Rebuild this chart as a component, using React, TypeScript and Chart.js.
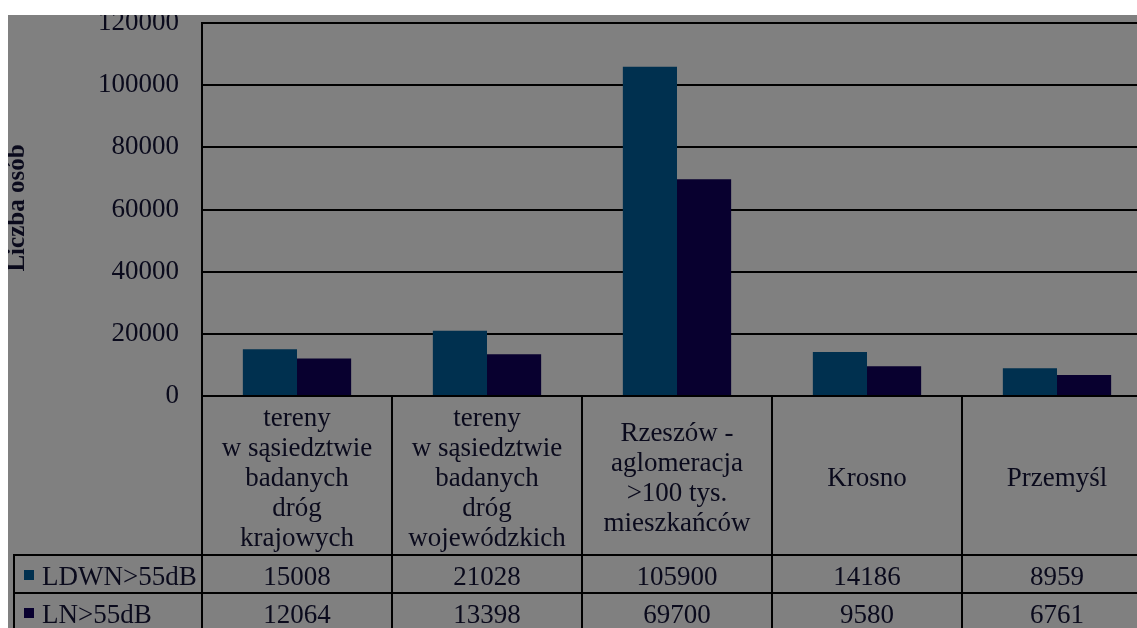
import React, { useEffect, useRef } from "react";
import { Chart, registerables } from "chart.js";

Chart.register(...registerables);

const categories: string[][] = [
  ["tereny", "w sąsiedztwie", "badanych", "dróg", "krajowych"],
  ["tereny", "w sąsiedztwie", "badanych", "dróg", "wojewódzkich"],
  ["Rzeszów -", "aglomeracja", ">100 tys.", "mieszkańców"],
  ["Krosno"],
  ["Przemyśl"],
];
const seriesNames = ["LDWN>55dB", "LN>55dB"];
const ldwnValues = [15008, 21028, 105900, 14186, 8959];
const lnValues = [12064, 13398, 69700, 9580, 6761];
const tableLdwn = ["15008", "21028", "105900", "14186", "8959"];
const tableLn = ["12064", "13398", "69700", "9580", "6761"];
const yTitle = "Liczba osób";
const colors = ["#00304f", "#08002f"];

const FONT = '"Liberation Serif", "Times New Roman", serif';
const TEXT = "#0a0a1c";

const tablePlugin = {
  id: "dataTable",
  afterDraw(chart: any) {
    const ctx = chart.ctx as CanvasRenderingContext2D;
    const x = chart.scales.x;
    const area = chart.chartArea;
    const H = chart.height;
    const n = categories.length;
    const cw = (area.right - area.left) / n;
    const headerBottom = area.bottom + 159;
    const row1Bottom = headerBottom + 38;
    const row2Bottom = row1Bottom + 38;
    const leftEdge = 6;
    ctx.save();
    ctx.strokeStyle = "#000";
    ctx.lineWidth = 2;
    ctx.beginPath();
    for (let i = 0; i <= n; i++) {
      const px = i < n ? x.getPixelForValue(i) - cw / 2 : x.getPixelForValue(n - 1) + cw / 2;
      ctx.moveTo(Math.round(px), area.bottom);
      ctx.lineTo(Math.round(px), H + 5);
    }
    ctx.moveTo(leftEdge, headerBottom);
    ctx.lineTo(leftEdge, H + 5);
    [headerBottom, row1Bottom, row2Bottom].forEach((yy) => {
      ctx.moveTo(leftEdge - 1, yy);
      ctx.lineTo(area.right + 1, yy);
    });
    ctx.stroke();

    ctx.fillStyle = TEXT;
    ctx.font = `27px ${FONT}`;
    ctx.textAlign = "center";
    ctx.textBaseline = "alphabetic";
    const midBase = area.bottom + 90;
    categories.forEach((lines, i) => {
      const cx = x.getPixelForValue(i);
      lines.forEach((ln, k) => {
        ctx.fillText(ln, cx, midBase + (k - (lines.length - 1) / 2) * 30);
      });
      ctx.fillText(tableLdwn[i], cx, headerBottom + 30);
      ctx.fillText(tableLn[i], cx, row1Bottom + 30);
    });
    ctx.textAlign = "left";
    [headerBottom, row1Bottom].forEach((top, r) => {
      ctx.fillStyle = colors[r];
      ctx.fillRect(16, top + 15, 10, 10);
      ctx.fillStyle = TEXT;
      ctx.fillText(seriesNames[r], 34, top + 30);
    });

    ctx.translate(10, 193);
    ctx.rotate(-Math.PI / 2);
    ctx.textAlign = "center";
    ctx.textBaseline = "middle";
    ctx.font = `bold 25px ${FONT}`;
    ctx.fillText(yTitle, 0, 0);
    ctx.restore();
  },
};

export default function App() {
  const ref = useRef<HTMLCanvasElement>(null);
  useEffect(() => {
    if (!ref.current) return;
    const chart = new Chart(ref.current, {
      type: "bar",
      data: {
        labels: categories.map((c) => c.join(" ")),
        datasets: [
          { label: seriesNames[0], data: ldwnValues, backgroundColor: colors[0], borderWidth: 0 },
          { label: seriesNames[1], data: lnValues, backgroundColor: colors[1], borderWidth: 0 },
        ],
      },
      options: {
        animation: false,
        responsive: false,
        devicePixelRatio: 1,
        layout: { padding: { top: 8, bottom: 232, left: 0, right: 16 } },
        plugins: { legend: { display: false }, tooltip: { enabled: false }, title: { display: false } },
        datasets: { bar: { categoryPercentage: 0.57, barPercentage: 1 } },
        scales: {
          x: { display: false },
          y: {
            min: 0,
            max: 120000,
            ticks: {
              stepSize: 20000,
              padding: 23,
              color: TEXT,
              font: { family: FONT, size: 27 },
              autoSkip: false,
              callback: (v: any) => String(v),
            },
            grid: { color: "#000", lineWidth: 2, drawTicks: false },
            border: { display: true, color: "#000", width: 2 },
            afterFit(scale: any) {
              scale.width = 194;
              scale.paddingTop = 0;
              scale.paddingBottom = 0;
            },
          },
        },
      },
      plugins: [tablePlugin],
    });
    return () => chart.destroy();
  }, []);
  return (
    <div
      style={{
        position: "absolute",
        left: 8,
        top: 15,
        width: 1129,
        height: 613,
        overflow: "hidden",
        background: "#808080",
      }}
    >
      <canvas ref={ref} width={1160} height={613} style={{ display: "block", width: 1160, height: 613 }} />
    </div>
  );
}
